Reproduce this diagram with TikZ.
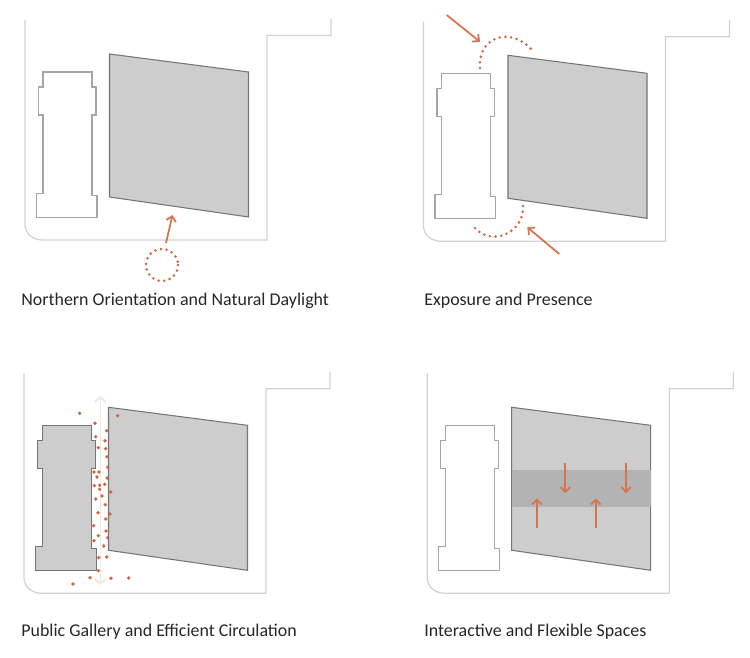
\documentclass[tikz,border=0pt]{standalone}
\usepackage{fontspec}
\setmainfont{Carlito}
\usetikzlibrary{arrows.meta}
\definecolor{sunorange}{HTML}{D2633D}
\definecolor{siteline}{HTML}{D2D2D2}
\definecolor{massfill}{HTML}{CDCDCD}
\definecolor{massline}{HTML}{757575}
\definecolor{bandfill}{HTML}{B3B3B3}
\definecolor{galleryarrow}{HTML}{F6E7DD}
\tikzset{
  sitelimit/.style  = {draw=siteline, line width=0.7pt},
  hallmass/.style   = {draw=massline, fill=massfill, line width=0.6pt},
  oldblock/.style   = {draw=massline!65, line width=0.6pt},
  oldsolid/.style   = {draw=massline, fill=massfill, line width=0.7pt},
  orangedots/.style = {draw=sunorange, line width=1.6pt, line cap=round, dash pattern=on 0pt off 3.25pt},
  movearrow/.style  = {draw=sunorange!90, line width=1pt, -{Straight Barb[length=2.8pt,width=5.5pt]}},
  gallerylane/.style = {draw=galleryarrow, line width=1pt, {Straight Barb[length=2.8pt,width=6.5pt]}-{Straight Barb[length=2.8pt,width=6.5pt]}},
  crowddot/.style   = {fill=sunorange},
  caption/.style    = {anchor=west, inner sep=0pt, font=\fontsize{10.2pt}{12pt}\selectfont, text=black!85},
}
% site outline and hall, #1 = shift of the panel
\newcommand{\sitehall}[1]{%
  \begin{scope}[shift={#1}]
    \draw[sitelimit] (25,20) -- (25,224) .. controls (25,234) and (33,240) .. (43,240)
      -- (267,240) -- (267,35.5) -- (331,35.5) -- (331,19);
    \draw[hallmass] (109.5,54) -- (248.5,72) -- (248.5,217) -- (109.5,197) -- cycle;
  \end{scope}}
% the old building, #1 = shift of the panel, #2 = style
\newcommand{\oldbuilding}[2]{%
  \draw[#2, shift={#1}] (43,72) -- (92,72) -- (92,87) -- (96,87) -- (96,115) -- (92,115)
    -- (92,195.5) -- (97,195.5) -- (97,217.5) -- (36.5,217.5) -- (36.5,193.5) -- (43,193.5)
    -- (43,115) -- (38.5,115) -- (38.5,87) -- (43,87) -- cycle;}

\begin{document}
\begin{tikzpicture}[x=0.02cm, y=-0.02cm]
\useasboundingbox (0,0) rectangle (750,658);

% =============== DAYLIGHT ===============
\sitehall{(0,0)}
\oldbuilding{(0,0)}{oldblock}
\coordinate (sunstart) at (166,243);
\coordinate (suntip) at (172.5,215);
\draw[orangedots] (162,265) circle (16);
\draw[movearrow] (sunstart) -- (suntip);
\node (daylight) [caption] at (21,301) {Northern Orientation and Natural Daylight};

% =============== EXPOSURE ===============
\sitehall{(398.5,1.3)}
\oldbuilding{(398.5,1.3)}{oldblock}
\draw[orangedots] (480,68) .. controls (477,38) and (510,25) .. (532,50);
\draw[orangedots] (523,206) .. controls (525,232) and (490,250) .. (471.7,224);
\coordinate (northstart) at (446.7,15);
\coordinate (northtip) at (480,41.7);
\coordinate (southstart) at (559.3,254);
\coordinate (southtip) at (527.3,227.3);
\draw[movearrow] (northstart) -- (northtip);
\draw[movearrow] (southstart) -- (southtip);
\node (presence) [caption] at (424,301) {Exposure and Presence};

% =============== CIRCULATION ===============
\sitehall{(-1,353.3)}
\oldbuilding{(-0.7,353.3)}{oldsolid}
\coordinate (lanetop) at (100.4,396);
\coordinate (lanefoot) at (100.4,585);
\draw[gallerylane] (lanetop) -- (lanefoot);
\foreach \x/\y in {79.7/413.3, 117.7/415.7, 95/423.3, 106.7/430.7, 95.7/436.7, 105/440.7,
    98.3/447.7, 105.7/448.7, 107/456.7, 107.7/467.3, 94/472, 99/472, 97/477, 107.3/478,
    94.3/485.7, 99.7/485.3, 104.7/484.3, 99.7/489.3, 110.7/492, 102/496, 95.7/499,
    105.3/504.7, 98/512.7, 110/514, 105.7/519, 93.7/525.7, 106/531, 98.3/535.7,
    107.7/537.7, 94/540.7, 103.7/546, 106.7/557, 98.7/557.7, 98.3/570.7, 90/577.7,
    111/578.3, 128.7/578, 73/584}
  \fill[crowddot] (\x,\y) circle (1.05pt);
\node (gallery) [caption] at (21,632) {Public Gallery and Efficient Circulation};

% =============== FLEXIBLE SPACES ===============
\sitehall{(402.2,353.3)}
\oldbuilding{(402.2,353.3)}{oldblock}
\fill[bandfill] (511.7,470) rectangle (650.7,507);
\foreach \n/\x in {a/537, b/595.7} {
  \coordinate (up\n start) at (\x,528.3);
  \coordinate (up\n tip) at (\x,498.3);
  \draw[movearrow] (up\n start) -- (up\n tip);
}
\foreach \n/\x in {a/565.3, b/626} {
  \coordinate (down\n start) at (\x,462.7);
  \coordinate (down\n tip) at (\x,493.3);
  \draw[movearrow] (down\n start) -- (down\n tip);
}
\node (flexible) [caption] at (424,632) {Interactive and Flexible Spaces};

\end{tikzpicture}
\end{document}
